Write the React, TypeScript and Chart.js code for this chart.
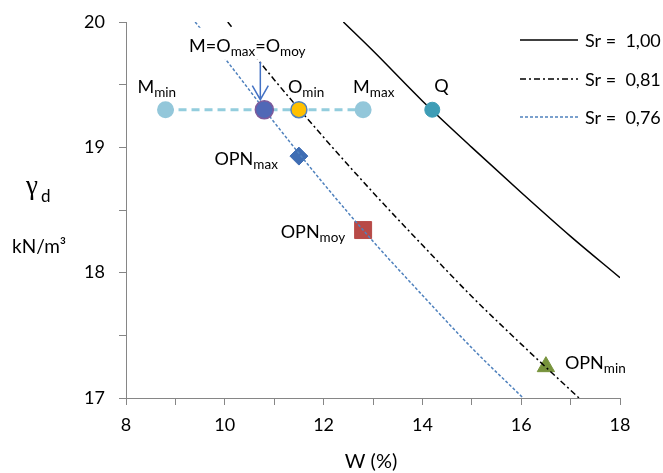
import React, { useEffect, useRef } from "react";
import { Chart, registerables } from "chart.js";

Chart.register(...registerables);

// ---- data ----
const xTicks = [8, 10, 12, 14, 16, 18];
const yTicks = [17, 18, 19, 20];

const wSr100 = [12.4, 13, 14, 15, 16, 17, 18];
const gSr100 = [20.0, 19.77, 19.37, 19.0, 18.64, 18.29, 17.96];
const wSr081 = [10.06, 11, 12, 13, 14, 15, 16, 17.17];
const gSr081 = [20.0, 19.54, 19.08, 18.64, 18.22, 17.81, 17.43, 17.0];
const wSr076 = [9.4, 10, 11, 12, 13, 14, 15, 16.04];
const gSr076 = [20.0, 19.71, 19.2, 18.71, 18.25, 17.82, 17.4, 17.0];

const legendLabels = ["Sr =  1,00", "Sr =  0,81", "Sr =  0,76"];

// named points: Mmin, M, Omin, Mmax, Q, OPNmax, OPNmoy, OPNmin
const pointW = [8.8, 10.8, 11.5, 12.8, 14.2, 11.5, 12.8, 16.5];
const pointG = [19.3, 19.3, 19.3, 19.3, 19.3, 18.93, 18.34, 17.25];
// label text parts: [text, isSubscript]
const pointLabels: [string, boolean][][] = [
  [["M", false], ["min", true]],
  [["M=O", false], ["max", true], ["=O", false], ["moy", true]],
  [["O", false], ["min", true]],
  [["M", false], ["max", true]],
  [["Q", false]],
  [["OPN", false], ["max", true]],
  [["OPN", false], ["moy", true]],
  [["OPN", false], ["min", true]],
];

const FONT = "Lato";
const pts = (idx: number[]) => idx.map((i) => ({ x: pointW[i], y: pointG[i] }));
const curve = (w: number[], g: number[]) => w.map((v, i) => ({ x: v, y: g[i] }));

function drawRich(ctx: CanvasRenderingContext2D, parts: [string, boolean][], x: number, y: number, align: string) {
  const mainF = `18px ${FONT}`;
  const subF = `13.5px ${FONT}`;
  let total = 0;
  const widths = parts.map(([t, s]) => {
    ctx.font = s ? subF : mainF;
    const w = ctx.measureText(t).width;
    total += w;
    return w;
  });
  const left = align === "right" ? x - total : align === "center" ? x - total / 2 : x;
  return {
    left,
    right: left + total,
    draw: () => {
      let px = left;
      ctx.fillStyle = "#000";
      ctx.textBaseline = "alphabetic";
      ctx.textAlign = "left";
      parts.forEach(([t, s], i) => {
        ctx.font = s ? subF : mainF;
        ctx.fillText(t, px, s ? y + 4 : y);
        px += widths[i];
      });
    },
  };
}

const annotPlugin = {
  id: "annot",
  afterDatasetsDraw(chart: any) {
    const ctx: CanvasRenderingContext2D = chart.ctx;
    const xs = chart.scales.x;
    const ys = chart.scales.y;
    const P = (i: number) => ({ x: xs.getPixelForValue(pointW[i]), y: ys.getPixelForValue(pointG[i]) });
    ctx.save();
    // label offsets [dx, dy, align]
    const offs: [number, number, string][] = [
      [-28, -17, "left"],
      [-17, -58, "center"],
      [-11, -17, "left"],
      [-10, -17, "left"],
      [2, -18, "left"],
      [-21, 9, "right"],
      [-18, 8, "right"],
      [19, 2, "left"],
    ];
    pointLabels.forEach((parts, i) => {
      const p = P(i);
      const [dx, dy, al] = offs[i];
      const r = drawRich(ctx, parts, p.x + dx, p.y + dy, al);
      if (i === 1) {
        ctx.fillStyle = "#fff";
        ctx.fillRect(r.left - 4, p.y + dy - 24, r.right - r.left + 8, 32);
      }
      r.draw();
    });
    // arrow to M
    const m = P(1);
    const ax = m.x - 4;
    const top = m.y - 48;
    const tip = m.y - 10;
    ctx.strokeStyle = "#4472C4";
    ctx.lineWidth = 1.5;
    ctx.setLineDash([]);
    ctx.beginPath();
    ctx.moveTo(ax, top);
    ctx.lineTo(ax, tip);
    ctx.moveTo(ax - 8, tip - 14);
    ctx.lineTo(ax, tip);
    ctx.lineTo(ax + 8, tip - 14);
    ctx.stroke();

    // legend
    const ly = [40, 79, 117];
    const styles = [
      { c: "#000", d: [] as number[] },
      { c: "#000", d: [6, 3, 2, 3] },
      { c: "#4F81BD", d: [3, 2] },
    ];
    legendLabels.forEach((t, i) => {
      ctx.strokeStyle = styles[i].c;
      ctx.lineWidth = 1.5;
      ctx.setLineDash(styles[i].d);
      ctx.beginPath();
      ctx.moveTo(520, ly[i]);
      ctx.lineTo(578, ly[i]);
      ctx.stroke();
      ctx.setLineDash([]);
      ctx.fillStyle = "#000";
      ctx.font = `18px ${FONT}`;
      ctx.textAlign = "left";
      ctx.textBaseline = "middle";
      ctx.fillText(t, 585, ly[i] + 1);
    });

    // axis titles
    ctx.fillStyle = "#000";
    ctx.textBaseline = "alphabetic";
    ctx.textAlign = "center";
    ctx.font = `20px ${FONT}`;
    ctx.fillText("W (%)", 371, 468);
    ctx.textAlign = "left";
    ctx.font = `27px "Liberation Serif"`;
    ctx.fillText("γ", 26, 194);
    ctx.font = `17px ${FONT}`;
    ctx.fillText("d", 41, 202);
    ctx.font = `19px ${FONT}`;
    ctx.fillText("kN/m³", 12, 253);
    ctx.restore();
  },
};

export default function App() {
  const ref = useRef<HTMLCanvasElement | null>(null);
  useEffect(() => {
    document.body.style.margin = "0";
    const canvas = ref.current!;
    const chart = new Chart(canvas, {
      type: "scatter",
      data: {
        datasets: [
          { label: "M", data: pts([1]), pointRadius: 9, pointBackgroundColor: "#5068B6", pointBorderColor: "#7E5A9B", pointBorderWidth: 1.5, showLine: false },
          { label: "Omin", data: pts([2]), pointRadius: 8, pointBackgroundColor: "#FFC000", pointBorderColor: "#4F81BD", pointBorderWidth: 1.5, showLine: false },
          { label: "Q", data: pts([4]), pointRadius: 7.5, pointBackgroundColor: "#3E9DB6", pointBorderColor: "#3E9DB6", showLine: false },
          { label: "Sr076", data: curve(wSr076, gSr076), showLine: true, pointRadius: 0, borderColor: "#4F81BD", borderWidth: 1.5, borderDash: [3, 2], tension: 0.4, cubicInterpolationMode: "monotone" },
          { label: "Sr081", data: curve(wSr081, gSr081), showLine: true, pointRadius: 0, borderColor: "#000", borderWidth: 1.5, borderDash: [6, 3, 2, 3], tension: 0.4, cubicInterpolationMode: "monotone" },
          { label: "Sr100", data: curve(wSr100, gSr100), showLine: true, pointRadius: 0, borderColor: "#000", borderWidth: 1.5, tension: 0.4, cubicInterpolationMode: "monotone" },
          { label: "OPNmax", data: pts([5]), pointStyle: "rectRot", pointRadius: 9, pointBackgroundColor: "#3F6DB3", pointBorderColor: "#3F6DB3", showLine: false },
          { label: "OPNmoy", data: pts([6]), pointStyle: "rect", pointRadius: 12, pointBackgroundColor: "#B84A47", pointBorderColor: "#B84A47", showLine: false },
          { label: "OPNmin", data: pts([7]), pointStyle: "triangle", pointRadius: 10, pointBackgroundColor: "#77933C", pointBorderColor: "#77933C", showLine: false },
          { label: "Mline", data: pts([0, 1, 2, 3]), showLine: true, borderColor: "#93CDDD", borderWidth: 3, borderDash: [8, 5], pointRadius: [7, 0, 0, 7], pointBackgroundColor: "#93C7DA", pointBorderColor: "#93C7DA" },
        ] as any,
      },
      options: {
        responsive: false,
        animation: false,
        layout: { padding: { left: 0, top: 22, right: 43, bottom: 0 } },
        plugins: { legend: { display: false }, tooltip: { enabled: false } },
        scales: {
          x: {
            type: "linear",
            min: 8,
            max: 18,
            afterFit: (s: any) => { s.height = 75; s.paddingLeft = 0; s.paddingRight = 0; },
            border: { color: "#868686", width: 1 },
            grid: { drawOnChartArea: false, drawTicks: true, tickLength: 7, color: "#868686" },
            ticks: {
              stepSize: 1,
              autoSkip: false,
              maxRotation: 0,
              padding: 9,
              color: "#000",
              font: { family: FONT, size: 18 },
              callback: (v: any) => (xTicks.includes(Number(v)) ? String(v) : ""),
            },
          },
          y: {
            type: "linear",
            min: 17,
            max: 20,
            afterFit: (s: any) => { s.width = 126; s.paddingTop = 0; s.paddingBottom = 0; },
            border: { color: "#868686", width: 1 },
            grid: { drawOnChartArea: false, drawTicks: true, tickLength: 7, color: "#868686" },
            ticks: {
              stepSize: 0.5,
              autoSkip: false,
              padding: 14,
              color: "#000",
              font: { family: FONT, size: 18 },
              callback: (v: any) => (yTicks.includes(Number(v)) ? String(v) : ""),
            },
          },
        },
      },
      plugins: [annotPlugin],
    } as any);
    return () => chart.destroy();
  }, []);
  return (
    <div style={{ position: "absolute", left: 0, top: 0, width: 663, height: 473 }}>
      <canvas ref={ref} width={663} height={473} />
    </div>
  );
}
